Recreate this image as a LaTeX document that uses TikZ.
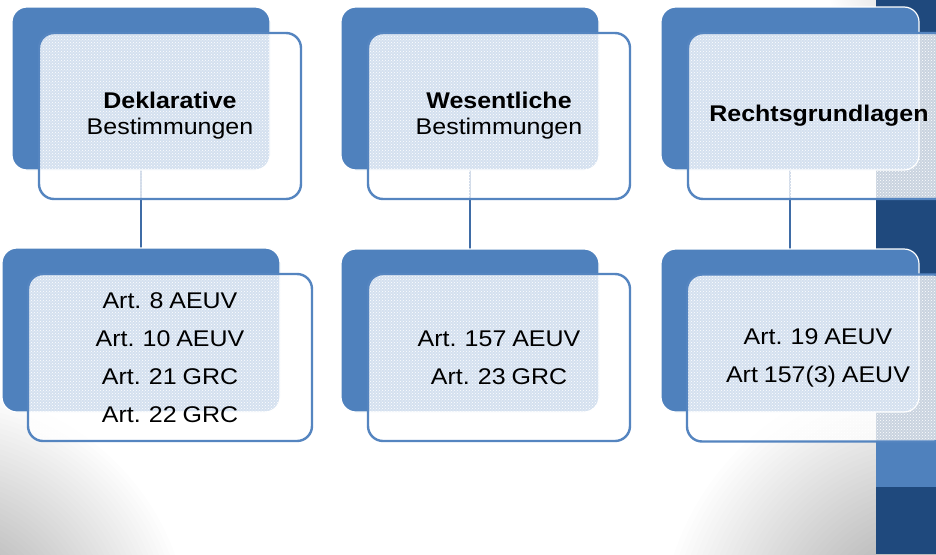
\documentclass[tikz,border=0pt]{standalone}
\usepackage{fontspec}
\newfontfamily\boxfont[FakeStretch=1.1, WordSpace=0.85]{Liberation Sans}
\usetikzlibrary{patterns}

\definecolor{accent}{HTML}{4F81BD}
\definecolor{deepblue}{HTML}{1F497D}
\definecolor{linkblue}{HTML}{3F6CA6}
\definecolor{frameblue}{HTML}{5585C0}

\pgfdeclarelayer{bg}
\pgfdeclarelayer{links}
\pgfsetlayers{bg,links,main}

% soft grey vignette: stacked translucent discs, darkest at the centre
\newcommand\vignette[4]{%
  \foreach \k in {1,...,50}{%
    \fill[black, fill opacity=#4] (#1,#2) circle ({#3*\k/50});
  }%
}

\begin{document}
\begin{tikzpicture}[x=1pt,y=-1pt,
  backbox/.style={draw=white, line width=1.2pt, fill=accent, rounded corners=15pt,
    inner sep=0pt, outer sep=0pt},
  frontbox/.style={draw=frameblue, line width=2.4pt, rounded corners=15pt,
    inner sep=0pt, outer sep=0pt,
    preaction={fill=white, fill opacity=0.76},
    preaction={pattern=crosshatch dots, pattern color=white}},
  link/.style={draw=linkblue, line width=2.6pt},
  headtext/.style={font=\boxfont\fontsize{22.7}{26}\selectfont, align=center, text=black},
  listtext/.style={font=\boxfont\fontsize{22.7}{38}\selectfont, align=center, text=black}]

\useasboundingbox (0,0) rectangle (936,554);

% background
\begin{pgfonlayer}{bg}
  \fill[white] (0,0) rectangle (936,554);
  \begin{scope}
    \clip (0,0) rectangle (936,554);
    \vignette{-60}{640}{250}{0.006}
    \vignette{930}{640}{270}{0.006}
    \vignette{936}{-30}{110}{0.004}
  \end{scope}
  \fill[deepblue] (876,0) rectangle (936,554);
  \fill[accent] (876,440) rectangle (936,487);
\end{pgfonlayer}

% upper row
\node[backbox, minimum width=258pt, minimum height=163pt] (top1) at (141,88.5) {};
\node[frontbox, minimum width=262pt, minimum height=166pt] (topcard1) at (170,116) {};
\node[headtext] (toptext1) at (topcard1) {\textbf{Deklarative}\\Bestimmungen};

\node[backbox, minimum width=258pt, minimum height=163pt] (top2) at (470,88.5) {};
\node[frontbox, minimum width=262pt, minimum height=166pt] (topcard2) at (499,116) {};
\node[headtext] (toptext2) at (topcard2) {\textbf{Wesentliche}\\Bestimmungen};

\node[backbox, minimum width=258pt, minimum height=163pt] (top3) at (790,88.5) {};
\node[frontbox, minimum width=262pt, minimum height=166pt] (topcard3) at (819,116) {};
\node[headtext] (toptext3) at (topcard3) {\textbf{Rechtsgrundlagen}};

% lower row
\node[backbox, minimum width=278pt, minimum height=164pt] (low1) at (141,330) {};
\node[frontbox, minimum width=284pt, minimum height=167pt] (lowcard1) at (170,357.5) {};
\node[listtext] (lowtext1) at (lowcard1) {Art. 8 AEUV\\Art. 10 AEUV\\Art. 21 GRC\\Art. 22 GRC};

\node[backbox, minimum width=258pt, minimum height=163pt] (low2) at (470,330.5) {};
\node[frontbox, minimum width=262pt, minimum height=167pt] (lowcard2) at (499,357.5) {};
\node[listtext] (lowtext2) at (lowcard2) {Art. 157 AEUV\\Art. 23 GRC};

\node[backbox, minimum width=258pt, minimum height=163pt] (low3) at (790,330.5) {};
\node[frontbox, minimum width=262pt, minimum height=167pt] (lowcard3) at (818,358) {};
\node[listtext] (lowtext3) at (lowcard3) {Art. 19 AEUV\\Art 157(3) AEUV};

% connectors, kept behind the cards
\begin{pgfonlayer}{links}
  \draw[link] (top1.south) -- (low1.north);
  \draw[link] (top2.south) -- (low2.north);
  \draw[link] (top3.south) -- (low3.north);
\end{pgfonlayer}

\end{tikzpicture}
\end{document}
